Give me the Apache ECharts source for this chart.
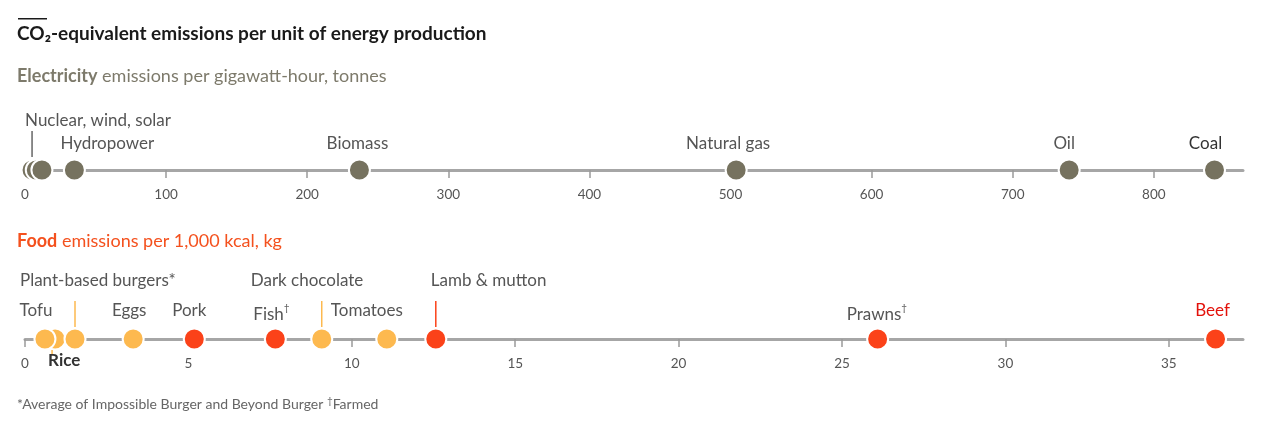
<!DOCTYPE html>
<html>
<head>
<meta charset="utf-8">
<script src="https://cdn.jsdelivr.net/npm/echarts@6/dist/echarts.min.js"></script>
<style>
  html, body { margin: 0; padding: 0; background: #fff; }
  #chart { width: 1274px; height: 427px; }
</style>
</head>
<body>
<div id="chart"></div>
<script>
// electricity, tonnes CO2e per gigawatt-hour
const elecNames = ['Nuclear', 'Wind', 'Solar', 'Hydropower', 'Biomass', 'Natural gas', 'Oil', 'Coal']
const elecValues = [5, 8, 12, 35, 237, 504, 740, 843]
const elecLabels = ['Nuclear, wind, solar', '', '', 'Hydropower', 'Biomass', 'Natural gas', 'Oil', 'Coal']
const elecTicks = [0, 100, 200, 300, 400, 500, 600, 700, 800]

// food, kg CO2e per 1,000 kcal (rice first so it sits behind its neighbours)
const foodNames = ['Rice', 'Tofu', 'Plant-based burgers', 'Eggs', 'Pork', 'Fish', 'Dark chocolate', 'Tomatoes', 'Lamb & mutton', 'Prawns', 'Beef']
const foodValues = [0.92, 0.61, 1.53, 3.31, 5.18, 7.66, 9.08, 11.07, 12.57, 26.09, 36.43]
const foodMeat = [false, false, false, false, true, true, false, false, true, true, true]
const foodNotes = ['', '', '*', '', '', '†', '', '', '', '†', '']
const foodTicks = [0, 5, 10, 15, 20, 25, 30, 35]

// colours
const GREY_DOT = '#76725f'
const YELLOW = '#fdb94f'
const RED = '#fb4219'
const TXT = '#555555'

// label placement relative to each dot (pixels)
const elecLayout = {
  'Nuclear': { dx: -7, dy: -49, align: 'left', leader: [-39, -13], lc: '#666' },
  'Hydropower': { dx: -14, dy: -26, align: 'left' },
  'Biomass': { dx: -2, dy: -26 },
  'Natural gas': { dx: -8, dy: -26 },
  'Oil': { dx: -5, dy: -26 },
  'Coal': { dx: -9, dy: -26, color: '#333' }
}
const foodLayout = {
  'Rice': { dx: -7, dy: 22, align: 'left', bold: true, color: '#333', leader: [11, 16], lc: YELLOW, lx: -3 },
  'Tofu': { dx: -9, dy: -28 },
  'Plant-based burgers': { dx: -55, dy: -58, align: 'left', leader: [-38, -12], lc: YELLOW },
  'Eggs': { dx: -4, dy: -28 },
  'Pork': { dx: -5, dy: -28 },
  'Fish': { dx: -22, dy: -26, align: 'left' },
  'Dark chocolate': { dx: -71, dy: -58, align: 'left', leader: [-38, -12], lc: YELLOW },
  'Tomatoes': { dx: -20, dy: -28 },
  'Lamb & mutton': { dx: -5, dy: -58, align: 'left', leader: [-38, -12], lc: RED },
  'Prawns': { dx: -31, dy: -26, align: 'left' },
  'Beef': { dx: -3, dy: -28, color: '#e3120b' }
}

const FONT = 'Lato, "Noto Sans", sans-serif'
const LABEL_SIZE = 17

function makeAxis(gridIndex, max, ticks) {
  return {
    type: 'value', gridIndex: gridIndex, min: 0, max: max, position: 'bottom',
    axisLine: { show: true, lineStyle: { color: '#a6a6a6', width: 3 } },
    axisTick: { show: true, customValues: ticks, length: 8, lineStyle: { color: '#9a9a9a', width: 1.5 } },
    axisLabel: { customValues: ticks, margin: 18, color: TXT, fontSize: 13.5, fontFamily: FONT },
    splitLine: { show: false }
  }
}

// dots
function dotSeries(gridIndex, values, colorOf) {
  return {
    type: 'scatter', xAxisIndex: gridIndex, yAxisIndex: gridIndex, silent: true, z: 3,
    symbolSize: 21,
    data: values.map((v, i) => ({ value: [v, 0], itemStyle: { color: colorOf(i) } })),
    itemStyle: { borderColor: '#fff', borderWidth: 2, opacity: 1 }
  }
}

// labels and leader lines drawn off the same scale
function labelSeries(gridIndex, names, values, labels, layout) {
  return {
    type: 'custom', xAxisIndex: gridIndex, yAxisIndex: gridIndex, silent: true, z: 4,
    data: values.map(v => [v, 0]),
    renderItem: (params, api) => {
      const i = params.dataIndex
      const L = layout[names[i]]
      const p = api.coord([api.value(0), 0])
      const kids = []
      if (!L) return { type: 'group', children: kids }
      if (L.leader) {
        const lx = p[0] + (L.lx || 0)
        kids.push({
          type: 'line',
          shape: { x1: lx, y1: p[1] + L.leader[0], x2: lx, y2: p[1] + L.leader[1] },
          style: { stroke: L.lc, lineWidth: 1.5 }
        })
      }
      if (labels[i]) {
        const fill = L.color || TXT
        kids.push({
          type: 'text', x: p[0] + L.dx, y: p[1] + L.dy,
          style: {
            text: labels[i], fill: fill, align: L.align || 'center', verticalAlign: 'middle',
            fontFamily: FONT, fontSize: LABEL_SIZE, fontWeight: L.bold ? 'bold' : 'normal',
            rich: {
              n: { fontSize: LABEL_SIZE, fontFamily: FONT, fill: fill, verticalAlign: 'bottom', lineHeight: 21 },
              sup: { fontSize: 10, fontFamily: FONT, fill: fill, verticalAlign: 'top', lineHeight: 21 }
            }
          }
        })
      }
      return { type: 'group', children: kids }
    }
  }
}

const foodLabels = foodNames.map((n, i) => {
  if (foodNotes[i] === '†') return '{n|' + n + '}{sup|†}'
  return n + foodNotes[i]
})

const chart = echarts.init(document.getElementById('chart'))

const option = {
  animation: false,
  backgroundColor: '#fff',
  title: [
    {
      text: 'CO₂-equivalent emissions per unit of energy production',
      left: 17, top: 24, padding: 0,
      textStyle: { fontFamily: FONT, fontSize: 19, fontWeight: 'bold', color: '#1a1a1a' }
    },
    {
      text: '{b|Electricity} emissions per gigawatt-hour, tonnes',
      left: 17, top: 67, padding: 0,
      textStyle: {
        fontFamily: FONT, fontSize: 18, fontWeight: 'normal', color: '#7d7a6b',
        rich: { b: { fontFamily: FONT, fontSize: 18, fontWeight: 'bold', color: '#7d7a6b' } }
      }
    },
    {
      text: '{b|Food} emissions per 1,000 kcal, kg',
      left: 17, top: 232, padding: 0,
      textStyle: {
        fontFamily: FONT, fontSize: 18, fontWeight: 'normal', color: '#f4511e',
        rich: { b: { fontFamily: FONT, fontSize: 18, fontWeight: 'bold', color: '#f4511e' } }
      }
    },
    {
      text: '*Average of Impossible Burger and Beyond Burger {s|†}Farmed',
      left: 17, top: 396, padding: 0,
      textStyle: {
        fontFamily: FONT, fontSize: 14, fontWeight: 'normal', color: '#666',
        rich: { s: { fontFamily: FONT, fontSize: 10, color: '#666', padding: [0, 0, 6, 0] } }
      }
    }
  ],
  graphic: [
    { type: 'rect', left: 18, top: 18, shape: { width: 29, height: 1.5 }, style: { fill: '#1a1a1a' } }
  ],
  grid: [
    { left: 25, right: 31, top: 130, height: 40 },
    { left: 25, right: 31, top: 299, height: 40 }
  ],
  xAxis: [
    makeAxis(0, 863.2, elecTicks),
    makeAxis(1, 37.27, foodTicks)
  ],
  yAxis: [
    { type: 'value', gridIndex: 0, min: 0, max: 1, show: false },
    { type: 'value', gridIndex: 1, min: 0, max: 1, show: false }
  ],
  series: [
    dotSeries(0, elecValues, () => GREY_DOT),
    labelSeries(0, elecNames, elecValues, elecLabels, elecLayout),
    dotSeries(1, foodValues, i => foodMeat[i] ? RED : YELLOW),
    labelSeries(1, foodNames, foodValues, foodLabels, foodLayout)
  ]
}

chart.setOption(option)
</script>
</body>
</html>
